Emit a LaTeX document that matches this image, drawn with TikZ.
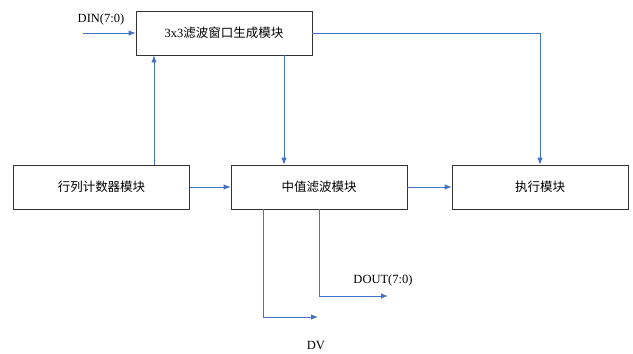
\documentclass[tikz,border=0pt]{standalone}
\usepackage{fontspec}
\setmainfont{Liberation Serif}
\newfontfamily\cjk{Noto Sans CJK SC}
\usetikzlibrary{arrows.meta}

\definecolor{linkblue}{HTML}{4472C4}

\tikzset{
  block/.style={draw=black!80, line width=0.8pt, minimum width=176pt, minimum height=44pt,
    inner sep=0pt, font=\fontsize{12.5}{14}\selectfont},
  link/.style={draw=linkblue, line width=0.8pt, -{Latex[length=7pt,width=5.5pt]}},
  sig/.style={font=\fontsize{12.5}{14}\selectfont, inner sep=0pt}
}

\begin{document}
\begin{tikzpicture}[x=1pt,y=-1pt]
  \useasboundingbox (0,0) rectangle (633,354);

  % modules
  \node[block] (win) at (224,33) {3x3{\cjk 滤波窗口生成模块}};
  \node[block] (cnt) at (101.5,187) {\cjk 行列计数器模块};
  \node[block] (med) at (319,187) {\cjk 中值滤波模块};
  \node[block] (exe) at (540,187) {\cjk 执行模块};

  % inputs and outputs
  \coordinate (din) at (83,33);
  \coordinate (dvend) at (318,317);
  \coordinate (doutend) at (388,296);
  \node[sig] (dinlbl) at (101,19) {DIN(7:0)};
  \node[sig] (doutlbl) at (383,280) {DOUT(7:0)};
  \node[sig] (dvlbl) at (316,345) {DV};

  % connections
  \draw[link] (din) -- (win.west);
  \draw[link] ([xshift=52.5pt]cnt.north) -- ([xshift=52.5pt]cnt.north |- win.south);
  \draw[link] ([xshift=60pt]win.south) -- ([xshift=60pt]win.south |- med.north);
  \draw[link] (win.east) -| (exe.north);
  \draw[link] (cnt.east) -- (med.west);
  \draw[link] (med.east) -- (exe.west);
  \draw[link] ([xshift=-56pt]med.south) |- (dvend);
  \draw[link] (med.south) |- (doutend);
\end{tikzpicture}
\end{document}
